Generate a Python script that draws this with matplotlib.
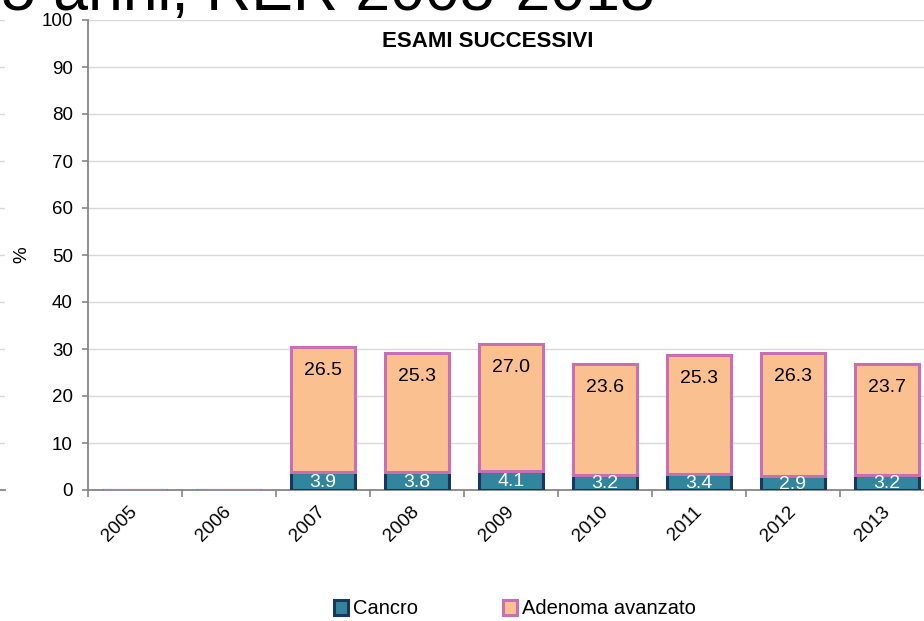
import matplotlib.pyplot as plt
import numpy as np

plt.rcParams['font.family'] = ['Liberation Sans', 'DejaVu Sans']

years = ['2005', '2006', '2007', '2008', '2009', '2010', '2011', '2012', '2013']
cancro = [0.0, 0.0, 3.9, 3.8, 4.1, 3.2, 3.4, 2.9, 3.2]
adenoma = [0.0, 0.0, 26.5, 25.3, 27.0, 23.6, 25.3, 26.3, 23.7]

W, H = 924, 621
fig = plt.figure(figsize=(W / 100, H / 100), dpi=100)
# axes extends past the right edge (slide is cropped)
ax = fig.add_axes([88 / W, 1 - 490 / H, (934 - 88) / W, 470 / H])

# remnant of the neighbouring chart on the left edge
axl = fig.add_axes([-100 / W, 1 - 490 / H, 105 / W, 470 / H])
axl.set_ylim(0, 100)
axl.set_yticks(np.arange(0, 101, 10))
axl.yaxis.grid(True, color='#D9D9D9', linewidth=1)
axl.set_xticks([])
axl.tick_params(axis='y', length=0, labelleft=False)
for s in ['top', 'right', 'left']:
    axl.spines[s].set_visible(False)
axl.spines['bottom'].set_color('#868686')
axl.spines['bottom'].set_linewidth(1.3)

x = np.arange(len(years))
w = 0.68
ax.bar(x, cancro, w, color='#31859C', edgecolor='#17375E', linewidth=2.2, label='Cancro', zorder=3)
ax.bar(x, adenoma, w, bottom=cancro, color='#FAC090', edgecolor='#C86FB4', linewidth=2.2,
       label='Adenoma avanzato', zorder=3)

for i in range(len(years)):
    if cancro[i] + adenoma[i] == 0:
        ax.text(x[i], 0.3, '0.0', ha='center', va='center', color='white', fontsize=13, zorder=2)
        continue
    ax.text(x[i], cancro[i] / 2 - 0.3, f'{cancro[i]:.1f}', ha='center', va='center',
            color='white', fontsize=14, zorder=4)
    top = cancro[i] + adenoma[i]
    ax.annotate(f'{adenoma[i]:.1f}', (x[i], top), xytext=(0, -17), textcoords='offset points',
                ha='center', va='center', color='black', fontsize=14, zorder=4)

ax.set_ylim(0, 100)
ax.set_xlim(-0.5, len(years) - 0.5)
ax.set_yticks(np.arange(0, 101, 10))
ax.yaxis.grid(True, color='#D9D9D9', linewidth=1)
ax.set_axisbelow(True)
for s in ['top', 'right']:
    ax.spines[s].set_visible(False)
for s in ['left', 'bottom']:
    ax.spines[s].set_color('#868686')
    ax.spines[s].set_linewidth(1.3)
ax.tick_params(axis='y', colors='#868686', labelcolor='black', labelsize=13.5,
               length=4, width=1.2, pad=7)
ax.set_xticks(np.arange(-0.5, len(years), 1), minor=False)
ax.set_xticklabels([])
ax.tick_params(axis='x', colors='#868686', length=5, width=1.2)
ax.set_xticks(x, minor=True)
ax.set_xticklabels(years, minor=True, rotation=45, fontsize=13.5)
for lbl in ax.get_xticklabels(minor=True):
    lbl.set_rotation_mode('anchor')
    lbl.set_ha('right')
    lbl.set_va('center')
ax.tick_params(axis='x', which='minor', length=0, pad=14)

fig.text(22 / W, 1 - 255 / H, '%', rotation=90, fontsize=13.5, ha='center', va='center')

ax.set_title('ESAMI SUCCESSIVI', fontsize=16, fontweight='bold',
             x=(488 - 88) / (934 - 88), y=0.925)

fig.text(655 / W, 1 - 10 / H, '5 anni, RER 2005-2013', fontsize=45, va='baseline', ha='right')

leg = fig.legend(loc='center', bbox_to_anchor=(515 / W, 1 - 609 / H), ncol=2, frameon=False,
                 fontsize=14.5, handlelength=0.7, handleheight=0.7, columnspacing=4.2,
                 handletextpad=0.25)

fig.savefig('out.png', dpi=100)
